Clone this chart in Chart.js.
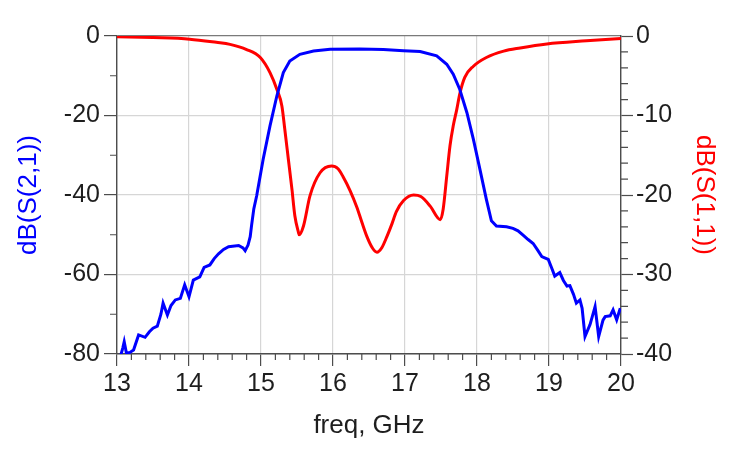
<!DOCTYPE html>
<html>
<head>
<meta charset="utf-8">
<script src="https://cdn.jsdelivr.net/npm/chart.js@4.4.0/dist/chart.umd.min.js"></script>
<style>
  html, body { margin: 0; padding: 0; background: #ffffff; }
  #wrap { width: 738px; height: 453px; }
</style>
</head>
<body>
<div id="wrap"><canvas id="sparam" width="738" height="453"></canvas></div>
<script>
// S(2,1) 투과 특성 - 왼쪽 축 (dB)
const s21Freq = [13.05, 13.08, 13.10, 13.13, 13.18, 13.23, 13.30, 13.39, 13.45, 13.50,
                 13.56, 13.61, 13.64, 13.70, 13.75, 13.81, 13.88, 13.94, 14.00, 14.06,
                 14.15, 14.21, 14.29, 14.35, 14.41, 14.48, 14.55, 14.69, 14.75, 14.78,
                 14.82, 14.85, 14.87, 14.90, 14.94, 15.03, 15.125, 15.22, 15.31, 15.40,
                 15.54, 15.73, 15.96, 16.37, 16.70, 16.98, 17.21, 17.44, 17.58, 17.67,
                 17.76, 17.86, 17.95, 18.04, 18.13, 18.20, 18.27, 18.41, 18.50, 18.57,
                 18.64, 18.71, 18.78, 18.84, 18.90, 18.94, 18.99, 19.04, 19.08, 19.15,
                 19.20, 19.25, 19.29, 19.34, 19.38, 19.43, 19.46, 19.50, 19.57, 19.64,
                 19.69, 19.75, 19.78, 19.85, 19.89, 19.94, 19.99];
const s21dB = [-80.5, -78.5, -76.9, -79.7, -79.6, -79.0, -75.2, -75.8, -74.4, -73.5,
               -73.0, -70.0, -67.2, -70.2, -67.8, -66.4, -66.0, -62.6, -65.6, -61.4,
               -60.6, -58.2, -57.6, -56.0, -54.8, -53.7, -53.0, -52.7, -53.3, -54.0,
               -52.6, -50.5, -47.5, -43.5, -40.2, -31.0, -22.6, -15.1, -9.2, -6.3,
               -4.6, -3.8, -3.35, -3.3, -3.4, -3.7, -3.9, -5.0, -7.1, -9.6,
               -13.4, -19.3, -26.0, -33.5, -41.1, -46.5, -47.8, -48.0, -48.4, -49.0,
               -50.1, -51.2, -52.2, -53.8, -55.5, -55.8, -56.2, -58.5, -60.4, -59.5,
               -61.5, -62.9, -62.8, -65.0, -67.2, -66.4, -68.5, -75.6, -72.6, -68.1,
               -75.6, -71.5, -70.6, -70.4, -68.9, -71.4, -68.5];

// S(1,1) 반사 특성 - 오른쪽 축 (dB)
const s11Freq = [13.0, 13.5, 14.01, 14.38, 14.57, 14.80, 14.99, 15.125, 15.22, 15.29,
                 15.33, 15.38, 15.43, 15.47, 15.52, 15.53, 15.59, 15.68, 15.82, 15.98,
                 16.07, 16.14, 16.24, 16.33, 16.40, 16.47, 16.55, 16.61, 16.68, 16.75,
                 16.82, 16.88, 16.98, 17.12, 17.22, 17.35, 17.49, 17.53, 17.58, 17.625,
                 17.67, 17.72, 17.76, 17.83, 17.95, 18.13, 18.37, 18.60, 18.97, 19.52, 20.0];
const s11dB = [-0.08, -0.2, -0.4, -0.8, -1.05, -1.7, -2.7, -4.6, -6.7, -8.8,
               -11.7, -15.5, -19.3, -22.6, -24.7, -25.0, -23.9, -20.1, -17.2, -16.35,
               -16.7, -17.7, -19.5, -21.5, -23.4, -25.2, -26.7, -27.2, -26.6, -25.2,
               -23.6, -22.1, -20.7, -20.0, -20.2, -21.4, -23.1, -21.8, -17.6, -13.8,
               -11.3, -9.2, -7.3, -5.2, -3.8, -2.7, -1.9, -1.5, -1.0, -0.6, -0.3];

// 축 범위와 눈금
const freqTicks = [13, 14, 15, 16, 17, 18, 19, 20];
const leftTicks = [0, -20, -40, -60, -80];
const rightTicks = [0, -10, -20, -30, -40];

const axisColor = '#4d4d4d';
const gridColor = '#d6d6d6';
const textColor = '#1e1e1e';
const fontFamily = '"Liberation Sans", Arial, sans-serif';

function toPoints(xs, ys) {
    return xs.map((f, i) => ({ x: f, y: ys[i] }));
}

// 보조 눈금 (minor ticks) 그리기
const minorTicks = {
    id: 'minorTicks',
    afterDraw(chart) {
        const { ctx } = chart;
        const { x, y, y2 } = chart.scales;
        ctx.save();
        ctx.strokeStyle = axisColor;
        ctx.lineWidth = 1.2;
        ctx.beginPath();
        for (let f = 13; f < 20; f += 1) {
            for (let k = 1; k < 5; k++) {
                const px = x.getPixelForValue(f + k * 0.2);
                ctx.moveTo(px, x.top);
                ctx.lineTo(px, x.top + 6);
            }
        }
        for (let v = -10; v > -80; v -= 20) {
            const py = y.getPixelForValue(v);
            ctx.moveTo(y.right, py);
            ctx.lineTo(y.right - 7, py);
        }
        for (let v = -2; v > -40; v -= 2) {
            if (v % 10 === 0) continue;
            const py = y2.getPixelForValue(v);
            ctx.moveTo(y2.left, py);
            ctx.lineTo(y2.left + 7, py);
        }
        ctx.stroke();
        ctx.restore();
    }
};

function fixedTicks(values) {
    return function (scale) {
        scale.ticks = values.map(v => ({ value: v }));
    };
}

const ctx = document.getElementById('sparam').getContext('2d');
new Chart(ctx, {
    type: 'line',
    data: {
        datasets: [{
            label: 'dB(S(2,1))',
            data: toPoints(s21Freq, s21dB),
            borderColor: '#0000ff',
            borderWidth: 3,
            pointRadius: 0,
            tension: 0,
            yAxisID: 'y'
        }, {
            label: 'dB(S(1,1))',
            data: toPoints(s11Freq, s11dB),
            borderColor: '#ff0000',
            borderWidth: 3,
            pointRadius: 0,
            cubicInterpolationMode: 'monotone',
            yAxisID: 'y2'
        }]
    },
    options: {
        responsive: false,
        animation: false,
        layout: { padding: { left: 9, right: 14, top: 36, bottom: 8 } },
        plugins: {
            legend: { display: false },
            tooltip: { enabled: false }
        },
        scales: {
            x: {
                type: 'linear',
                min: 13,
                max: 20,
                afterBuildTicks: fixedTicks(freqTicks),
                afterFit: s => { s.height = 91; },
                ticks: { color: textColor, padding: 3, font: { family: fontFamily, size: 25 } },
                grid: { color: gridColor, lineWidth: 1.2, tickLength: 12, tickColor: axisColor, tickWidth: 1.2 },
                border: { color: axisColor, width: 1.4 },
                title: {
                    display: true,
                    text: 'freq, GHz',
                    color: textColor,
                    font: { family: fontFamily, size: 26 }
                }
            },
            y: {
                type: 'linear',
                position: 'left',
                min: -80,
                max: 0,
                afterBuildTicks: fixedTicks(leftTicks),
                afterFit: s => { s.width = 108; },
                ticks: { color: textColor, padding: 4, font: { family: fontFamily, size: 25 } },
                grid: {
                    color: c => (c.tick && c.tick.value === 0) ? '#7a7a7a' : gridColor,
                    lineWidth: 1.2, tickLength: 13, tickColor: axisColor, tickWidth: 1.2
                },
                border: { color: axisColor, width: 1.4 },
                title: {
                    display: true,
                    text: 'dB(S(2,1))',
                    color: '#0000ff',
                    font: { family: fontFamily, size: 26 }
                }
            },
            y2: {
                type: 'linear',
                position: 'right',
                min: -40,
                max: 0,
                afterBuildTicks: fixedTicks(rightTicks),
                afterFit: s => { s.width = 103; },
                ticks: { color: textColor, padding: 3, font: { family: fontFamily, size: 25 } },
                grid: { drawOnChartArea: false, tickLength: 12, tickColor: axisColor, tickWidth: 1.2 },
                border: { color: axisColor, width: 1.4 },
                title: {
                    display: true,
                    text: 'dB(S(1,1))',
                    color: '#ff0000',
                    font: { family: fontFamily, size: 26 }
                }
            }
        }
    },
    plugins: [minorTicks]
});
</script>
</body>
</html>
